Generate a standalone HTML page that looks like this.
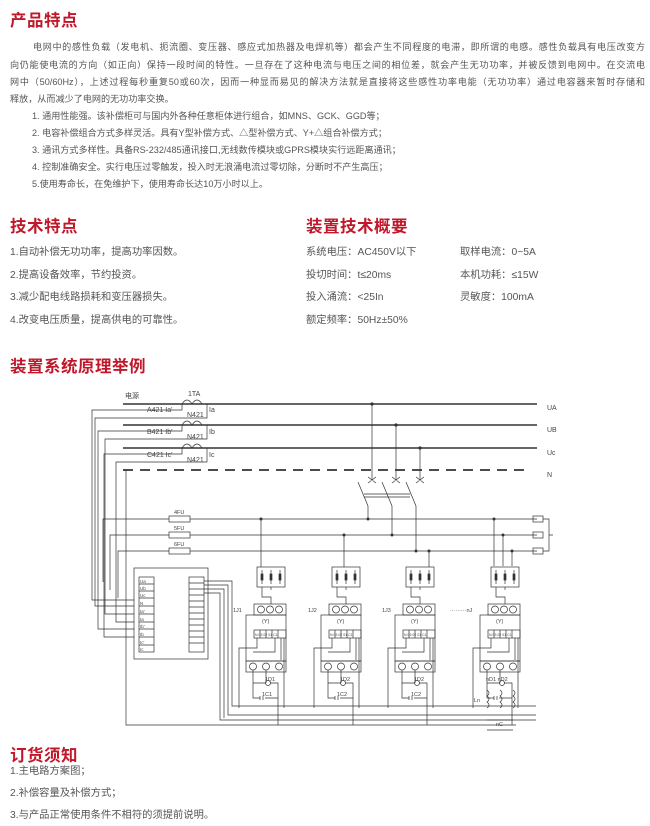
<!DOCTYPE html>
<html><head><meta charset="utf-8"><style>
body{margin:0;background:#fff;width:650px;height:826px;position:relative;overflow:hidden;font-family:"Liberation Sans","Noto Sans CJK SC",sans-serif;color:#555;}
.h{position:absolute;color:#c0182a;font-weight:bold;font-size:16.5px;letter-spacing:0.5px;}
.t{position:absolute;font-size:10.3px;white-space:nowrap;line-height:12px;}
.p{position:absolute;font-size:9.1px;white-space:nowrap;line-height:12px;overflow:hidden;}
.j{text-align:justify;text-align-last:justify;}
svg{position:absolute;left:0;top:0}
svg text{font-family:"Liberation Sans","Noto Sans CJK SC",sans-serif;fill:#444}
</style></head><body>
<div class="h" style="left:10px;top:7px">产品特点</div>
<div class="p j" style="left:33px;top:41px;width:612px">电网中的感性负载（发电机、扼流圈、变压器、感应式加热器及电焊机等）都会产生不同程度的电滞，即所谓的电感。感性负载具有电压改变方</div>
<div class="p j" style="left:10px;top:59px;width:635px">向仍能使电流的方向（如正向）保持一段时间的特性。一旦存在了这种电流与电压之间的相位差，就会产生无功功率，并被反馈到电网中。在交流电</div>
<div class="p j" style="left:10px;top:76px;width:635px">网中（50/60Hz），上述过程每秒重复50或60次，因而一种显而易见的解决方法就是直接将这些感性功率电能（无功功率）通过电容器来暂时存储和</div>
<div class="p" style="left:10px;top:93px">释放，从而减少了电网的无功功率交换。</div>
<div class="p" style="left:32px;top:110px">1. 通用性能强。该补偿柜可与国内外各种任意柜体进行组合，如MNS、GCK、GGD等；</div>
<div class="p" style="left:32px;top:127px">2. 电容补偿组合方式多样灵活。具有Y型补偿方式、△型补偿方式、Y+△组合补偿方式；</div>
<div class="p" style="left:32px;top:144px">3. 通讯方式多样性。具备RS-232/485通讯接口,无线数传模块或GPRS模块实行远距离通讯；</div>
<div class="p" style="left:32px;top:161px">4. 控制准确安全。实行电压过零触发，投入时无浪涌电流过零切除，分断时不产生高压；</div>
<div class="p" style="left:32px;top:178px">5.使用寿命长，在免维护下，使用寿命长达10万小时以上。</div>

<div class="h" style="left:10px;top:213px">技术特点</div>
<div class="t" style="left:10px;top:247px">1.自动补偿无功功率，提高功率因数。</div>
<div class="t" style="left:10px;top:270px">2.提高设备效率，节约投资。</div>
<div class="t" style="left:10px;top:292px">3.减少配电线路损耗和变压器损失。</div>
<div class="t" style="left:10px;top:315px">4.改变电压质量，提高供电的可靠性。</div>
<div class="h" style="left:306px;top:213px">装置技术概要</div>
<div class="t" style="left:306px;top:247px">系统电压：AC450V以下</div>
<div class="t" style="left:460px;top:247px">取样电流：0~5A</div>
<div class="t" style="left:306px;top:270px">投切时间：t≤20ms</div>
<div class="t" style="left:460px;top:270px">本机功耗：≤15W</div>
<div class="t" style="left:306px;top:292px">投入涌流：&lt;25In</div>
<div class="t" style="left:460px;top:292px">灵敏度：100mA</div>
<div class="t" style="left:306px;top:315px">额定频率：50Hz±50%</div>
<div class="h" style="left:10px;top:353px">装置系统原理举例</div>

<div class="h" style="left:10px;top:742px">订货须知</div>
<div class="t" style="left:10px;top:766px">1.主电路方案图；</div>
<div class="t" style="left:10px;top:788px">2.补偿容量及补偿方式；</div>
<div class="t" style="left:10px;top:810px">3.与产品正常使用条件不相符的须提前说明。</div>

<svg width="650" height="826" viewBox="0 0 650 826" font-size="6">
<g stroke="#333" fill="none" stroke-width="0.7">
<line x1="123" y1="404" x2="537" y2="404" stroke-width="1.6"/>
<line x1="123" y1="425" x2="537" y2="425" stroke-width="1.6"/>
<line x1="123" y1="448" x2="537" y2="448" stroke-width="1.6"/>
<line x1="123" y1="470" x2="528" y2="470" stroke-width="1.8" stroke-dasharray="10,7"/>
<path d="M182 404 q5 -8 10 0 q5 -8 10 0"/><path d="M182 425 q5 -8 10 0 q5 -8 10 0"/><path d="M182 448 q5 -8 10 0 q5 -8 10 0"/>
<path d="M182 404 v6 h-60 M207 404 v14 h-22"/>
<path d="M182 425 v6 h-60 M207 425 v14 h-22"/>
<path d="M182 448 v6 h-60 M207 448 v14 h-22"/>
<path d="M126 470 v255 h390"/>
<path d="M122 410 h-30 v190 h42 M122 431 h-24 v198 h36 M122 454 h-18 v183 h30"/>
<path d="M185 418 h-90 v188 h39 M185 439 h-80 v175 h29 M185 462 h-69 v160 h18"/>
<path d="M372 404 v76 M396 425 v55 M420 448 v32"/>
<path d="M368 477 l8 6 M376 477 l-8 6 M392 477 l8 6 M400 477 l-8 6 M416 477 l8 6 M424 477 l-8 6"/>
<path d="M358 482 l10 24 v13 M382 482 l10 24 v29 M406 482 l10 24 v45 M364 494 h46 M364 497 h46"/>
<path d="M103 582 v-63 h434 M110 590 v-55 h427 M118 598 v-47 h419"/>
<rect x="169" y="516" width="21" height="6" fill="#fff"/><rect x="169" y="532" width="21" height="6" fill="#fff"/><rect x="169" y="548" width="21" height="6" fill="#fff"/>
<rect x="533" y="516" width="10" height="6"/><rect x="533" y="532" width="10" height="6"/><rect x="533" y="548" width="10" height="6"/>
<path d="M543 519 h6 v32 h-6 M549 535 h4"/>
<rect x="134" y="568" width="74" height="91"/>
<rect x="139" y="577" width="15" height="75"/><rect x="189" y="577" width="15" height="75"/>
<path d="M139 584 h15 M139 591 h15 M139 598 h15 M139 606 h15 M139 614 h15 M139 622 h15 M139 629 h15 M139 637 h15 M139 645 h15"/>
<path d="M189 583 h15 M189 589 h15 M189 595 h15 M189 601 h15 M189 607 h15 M189 613 h15 M189 619 h15 M189 625 h15 M189 631 h15 M189 637 h15 M189 643 h15"/>
<path d="M204 581 h28 v125 h304 M204 585 h24 v130 h308 M204 589 h20 v129 M204 593 h16 v127 h316"/>
<path d="M494 519 v47 M503 535 v31 M512 551 v15"/>
</g>
<g fill="#333"><circle cx="372" cy="404" r="1.6"/><circle cx="396" cy="425" r="1.6"/><circle cx="420" cy="448" r="1.6"/>
<circle cx="368" cy="519" r="1.5"/><circle cx="392" cy="535" r="1.5"/><circle cx="416" cy="551" r="1.5"/>
<circle cx="261" cy="519" r="1.5"/><circle cx="344" cy="535" r="1.5"/><circle cx="429" cy="551" r="1.5"/>
<circle cx="494" cy="519" r="1.5"/><circle cx="503" cy="535" r="1.5"/><circle cx="512" cy="551" r="1.5"/></g>
<path d="M261 519 v48 M344 535 v32 M429 551 v16" stroke="#333" stroke-width="0.7"/>
<g font-size="7"><text x="125" y="398">电源</text><text x="188" y="396">1TA</text>
<text x="147" y="412">A421 Ia'</text><text x="187" y="417">N421</text><text x="209" y="412">Ia</text>
<text x="147" y="434">B421 Ib'</text><text x="187" y="439">N421</text><text x="209" y="434">Ib</text>
<text x="147" y="457">C421 Ic'</text><text x="187" y="462">N421</text><text x="209" y="457">Ic</text>
<text x="547" y="410">UA</text><text x="547" y="432">UB</text><text x="547" y="455">Uc</text><text x="547" y="477">N</text>
<text x="174" y="514" font-size="5.5">4FU</text><text x="174" y="530" font-size="5.5">5FU</text><text x="174" y="546" font-size="5.5">6FU</text></g>
<g font-size="4.5"><text x="140" y="583">Ua</text><text x="140" y="590">Ub</text><text x="140" y="597">Uc</text><text x="140" y="605">N</text><text x="140" y="613">Ia'</text><text x="140" y="621">Ia</text><text x="140" y="628">Ib'</text><text x="140" y="636">Ib</text><text x="140" y="644">Ic'</text><text x="140" y="651">Ic</text></g>
<defs>
<g id="grp" stroke="#333" fill="none" stroke-width="0.7">
<rect x="11" y="567" width="28" height="20"/>
<path d="M16 570 v14 M25 570 v14 M34 570 v14"/>
<rect x="15" y="574" width="2" height="6" fill="#333"/><rect x="24" y="574" width="2" height="6" fill="#333"/><rect x="33" y="574" width="2" height="6" fill="#333"/>
<path d="M16 587 v10 h9 v7 M25 587 v3"/>
<rect x="8" y="604" width="32" height="11"/>
<circle cx="15" cy="609.5" r="3.5"/><circle cx="24" cy="609.5" r="3.5"/><circle cx="33" cy="609.5" r="3.5"/>
<rect x="0" y="615" width="40" height="46"/>
<rect x="8" y="630" width="32" height="8"/>
<path d="M14 630 v8 M20 630 v8 M26 630 v8 M32 630 v8"/>
<path d="M11 638 v10 h-18 v60 M29 638 v14 h-22 M35 638 v22 M38 638 v70"/>
<rect x="0" y="661" width="40" height="11"/>
<circle cx="7" cy="666.5" r="3.5"/><circle cx="20" cy="666.5" r="3.5"/><circle cx="33" cy="666.5" r="3.5"/>
<path d="M7 670 v28 h7 M20 670 v13 M7 683 h13 M24 683 h8 v15 h-13 M14 696 v4 M17 696 v4 M32 683 v42 M32 698 v10"/>
<circle cx="22" cy="683" r="2.5"/>
</g>
</defs>
<use href="#grp" x="246"/><use href="#grp" x="321"/><use href="#grp" x="395"/><use href="#grp" x="480"/>
<g font-size="5.5"><text x="233" y="612">1J1</text><text x="308" y="612">1J2</text><text x="382" y="612">1J3</text><text x="450" y="612">·········nJ</text>
<text x="262" y="623">(Y)</text><text x="337" y="623">(Y)</text><text x="411" y="623">(Y)</text><text x="496" y="623">(Y)</text>
<text x="265" y="681">1D1</text><text x="340" y="681">1D2</text><text x="414" y="681">1D2</text><text x="486" y="681">nD1 nD2</text>
<text x="262" y="696">1C1</text><text x="337" y="696">1C2</text><text x="411" y="696">1C2</text><text x="496" y="726">nC</text>
<text x="474" y="702">Ln</text></g>
<g font-size="3.5"><text x="255" y="636">N 03 02 01 C1</text><text x="330" y="636">N 03 02 01 C1</text><text x="404" y="636">N 03 02 01 C1</text><text x="489" y="636">N 03 02 01 C1</text></g>
<g stroke="#333" fill="none" stroke-width="0.7"><path d="M487 690 q4 3 0 6 q4 3 0 6 q4 3 0 6 M500 690 q4 3 0 6 q4 3 0 6 q4 3 0 6 M513 690 q4 3 0 6 q4 3 0 6 q4 3 0 6 M487 720 h26 M487 730 h26"/></g>
</svg>
</body></html>
